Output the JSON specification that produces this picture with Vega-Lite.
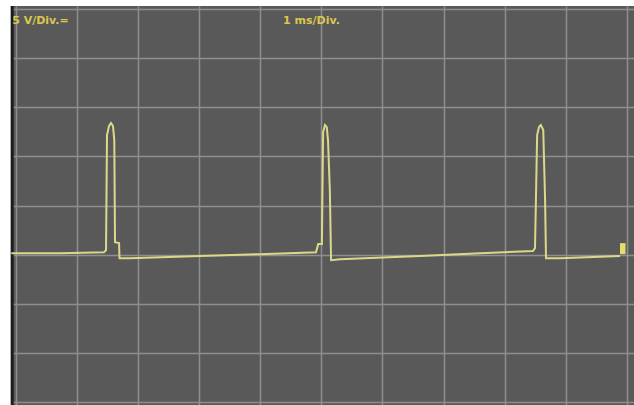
{
  "$schema": "https://vega.github.io/schema/vega-lite/v6.json",
  "width": 623,
  "height": 399,
  "padding": {"left": 11, "top": 6, "right": 0, "bottom": 0},
  "autosize": {"type": "none"},
  "background": "white",
  "config": {"view": {"fill": "#595959", "stroke": null}},
  "datasets": {
    "trace": [
      {"i": 0, "t": -0.07, "v": -4.85},
      {"i": 1, "t": 0.73, "v": -4.85},
      {"i": 2, "t": 1.447, "v": -4.75},
      {"i": 3, "t": 1.48, "v": -4.54},
      {"i": 4, "t": 1.496, "v": 7.17},
      {"i": 5, "t": 1.529, "v": 8.09},
      {"i": 6, "t": 1.562, "v": 8.39},
      {"i": 7, "t": 1.594, "v": 8.09},
      {"i": 8, "t": 1.615, "v": 6.66},
      {"i": 9, "t": 1.627, "v": -3.73},
      {"i": 10, "t": 1.693, "v": -3.83},
      {"i": 11, "t": 1.70, "v": -5.36},
      {"i": 12, "t": 1.872, "v": -5.36},
      {"i": 13, "t": 3.017, "v": -5.15},
      {"i": 14, "t": 4.0, "v": -4.95},
      {"i": 15, "t": 4.914, "v": -4.75},
      {"i": 16, "t": 4.95, "v": -3.93},
      {"i": 17, "t": 5.01, "v": -3.93},
      {"i": 18, "t": 5.03, "v": 7.47},
      {"i": 19, "t": 5.06, "v": 8.19},
      {"i": 20, "t": 5.09, "v": 7.98},
      {"i": 21, "t": 5.11, "v": 6.66},
      {"i": 22, "t": 5.14, "v": 1.57},
      {"i": 23, "t": 5.16, "v": -5.56},
      {"i": 24, "t": 5.306, "v": -5.46},
      {"i": 25, "t": 6.615, "v": -5.15},
      {"i": 26, "t": 7.6, "v": -4.85},
      {"i": 27, "t": 8.46, "v": -4.64},
      {"i": 28, "t": 8.495, "v": -4.34},
      {"i": 29, "t": 8.51, "v": 0.55},
      {"i": 30, "t": 8.53, "v": 7.17},
      {"i": 31, "t": 8.56, "v": 7.98},
      {"i": 32, "t": 8.59, "v": 8.19},
      {"i": 33, "t": 8.63, "v": 7.68},
      {"i": 34, "t": 8.66, "v": 0.55},
      {"i": 35, "t": 8.675, "v": -5.36},
      {"i": 36, "t": 8.905, "v": -5.36},
      {"i": 37, "t": 9.885, "v": -5.15}
    ],
    "labels": [
      {"t": -0.055, "v": 18.8, "label": "5 V/Div.="},
      {"t": 4.375, "v": 18.8, "label": "1 ms/Div."}
    ],
    "marker": [
      {"t": 9.885, "t2": 9.975, "v": -3.83, "v2": -4.95}
    ],
    "edge": [
      {"t": -0.055}
    ]
  },
  "encoding": {
    "x": {
      "type": "quantitative",
      "scale": {"domain": [-0.074, 10.114], "nice": false, "zero": false},
      "axis": {
        "values": [0, 1, 2, 3, 4, 5, 6, 7, 8, 9, 10],
        "grid": true, "gridColor": "#8e8e8e", "gridWidth": 1.5, "gridOpacity": 1,
        "labels": false, "ticks": false, "domain": false, "title": null
      }
    },
    "y": {
      "type": "quantitative",
      "scale": {"domain": [-20.3, 20.3], "nice": false, "zero": false},
      "axis": {
        "values": [-20, -15, -10, -5, 0, 5, 10, 15, 20],
        "grid": true, "gridColor": "#8e8e8e", "gridWidth": 1.5, "gridOpacity": 1,
        "labels": false, "ticks": false, "domain": false, "title": null
      }
    }
  },
  "layer": [
    {
      "data": {"name": "edge"},
      "mark": {"type": "rule", "color": "#1c1c1c", "strokeWidth": 3},
      "encoding": {"x": {"field": "t"}, "y": null}
    },
    {
      "data": {"name": "trace"},
      "mark": {"type": "line", "color": "#dcd88a", "strokeWidth": 2, "interpolate": "linear"},
      "encoding": {
        "x": {"field": "t"},
        "y": {"field": "v"},
        "order": {"field": "i", "type": "quantitative"}
      }
    },
    {
      "data": {"name": "marker"},
      "mark": {"type": "rect", "color": "#e6dc6a"},
      "encoding": {
        "x": {"field": "t"},
        "x2": {"field": "t2"},
        "y": {"field": "v"},
        "y2": {"field": "v2"}
      }
    },
    {
      "data": {"name": "labels"},
      "mark": {"type": "text", "align": "left", "baseline": "middle", "color": "#d9c84e", "font": "DejaVu Sans", "fontSize": 11, "fontWeight": "bold"},
      "encoding": {
        "x": {"field": "t"},
        "y": {"field": "v"},
        "text": {"field": "label"}
      }
    }
  ]
}
